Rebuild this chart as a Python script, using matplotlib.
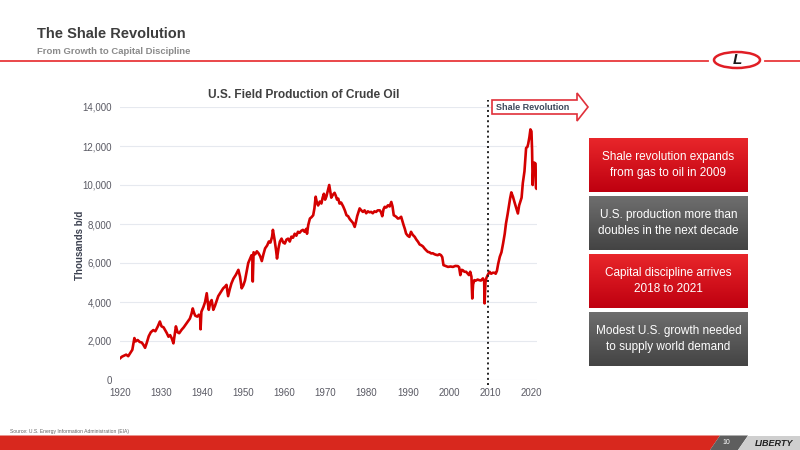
import numpy as np
import matplotlib
matplotlib.use('Agg')
import matplotlib.pyplot as plt
from matplotlib.patches import Polygon, Ellipse

plt.rcParams['font.family'] = ['Liberation Sans', 'DejaVu Sans']

# ---------- 数据 (读图估计, 千桶/日) ----------
years = [
    1920.0, 1920.5, 1921.0, 1921.5, 1922.0, 1922.5, 1923.0, 1923.5, 1923.8, 1924.3,
    1924.8, 1925.3, 1925.7, 1926.1, 1926.5, 1927.0, 1927.5, 1928.1, 1928.6, 1929.2,
    1929.7, 1930.1, 1930.6, 1931.0, 1931.4, 1931.8, 1932.2, 1932.6, 1933.0, 1933.3,
    1933.6, 1934.0, 1934.4, 1935.0, 1935.5, 1936.0, 1936.5, 1937.0, 1937.4, 1937.7,
    1938.0, 1938.3, 1938.8, 1939.2, 1939.5, 1939.6, 1939.8, 1940.3, 1940.7, 1941.1,
    1941.4, 1941.6, 1942.0, 1942.3, 1942.7, 1943.1, 1943.5, 1943.9, 1944.5, 1945.1,
    1945.6, 1945.9, 1946.3, 1946.7, 1947.1, 1947.6, 1948.2, 1948.8, 1949.2, 1949.6,
    1950.0, 1950.4, 1950.8, 1951.2, 1951.6, 1952.0, 1952.2, 1952.3, 1952.5, 1952.9,
    1953.3, 1953.7, 1954.1, 1954.5, 1954.9, 1955.3, 1955.8, 1956.2, 1956.6, 1957.0,
    1957.2, 1957.6, 1958.0, 1958.2, 1958.6, 1958.9, 1959.3, 1959.7, 1960.1, 1960.5,
    1960.9, 1961.3, 1961.7, 1962.1, 1962.5, 1962.9, 1963.3, 1963.7, 1964.1, 1964.5,
    1964.9, 1965.3, 1965.5, 1965.8, 1966.2, 1966.6, 1967.0, 1967.3, 1967.6, 1967.9,
    1968.2, 1968.6, 1969.0, 1969.3, 1969.6, 1969.9, 1970.2, 1970.5, 1970.9, 1971.2,
    1971.4, 1971.8, 1972.2, 1972.5, 1972.8, 1973.1, 1973.4, 1973.8, 1974.3, 1974.7,
    1975.1, 1975.5, 1975.9, 1976.3, 1976.7, 1977.1, 1977.4, 1977.7, 1978.0, 1978.3,
    1978.7, 1979.1, 1979.5, 1979.9, 1980.3, 1980.7, 1981.1, 1981.5, 1981.9, 1982.3,
    1982.7, 1983.2, 1983.5, 1983.8, 1984.1, 1984.4, 1984.8, 1985.2, 1985.6, 1986.0,
    1986.3, 1986.6, 1987.0, 1987.3, 1987.6, 1988.0, 1988.4, 1988.7, 1989.0, 1989.3,
    1989.6, 1990.0, 1990.4, 1990.8, 1991.2, 1991.7, 1992.1, 1992.5, 1992.9, 1993.3,
    1993.7, 1994.1, 1994.5, 1994.9, 1995.3, 1995.7, 1996.1, 1996.5, 1996.9, 1997.3,
    1997.7, 1998.1, 1998.4, 1998.7, 1999.2, 1999.8, 2000.4, 2001.0, 2001.6, 2002.2,
    2002.5, 2002.8, 2003.1, 2003.4, 2003.8, 2004.2, 2004.6, 2004.9, 2005.2, 2005.5,
    2005.7, 2005.9, 2006.2, 2006.6, 2007.0, 2007.4, 2007.8, 2008.3, 2008.6, 2008.7,
    2008.9, 2009.1, 2009.5, 2009.9, 2010.3, 2010.7, 2011.1, 2011.4, 2011.7, 2012.0,
    2012.4, 2012.8, 2013.2, 2013.6, 2013.9, 2014.3, 2014.6, 2014.9, 2015.2, 2015.6,
    2016.0, 2016.5, 2016.8, 2017.1, 2017.4, 2017.7, 2018.0, 2018.4, 2018.8, 2019.1,
    2019.3, 2019.6, 2019.85, 2020.1, 2020.25, 2020.4, 2020.6, 2020.8, 2020.95, 2021.1,
    2021.2, 2021.3,
]
production = [
    1110, 1200, 1250, 1300, 1220, 1380, 1550, 2150, 1980, 2050,
    1950, 1920, 1800, 1650, 1900, 2250, 2450, 2560, 2500, 2750,
    3000, 2750, 2700, 2550, 2400, 2220, 2300, 2130, 1880, 2300,
    2750, 2450, 2400, 2580, 2700, 2850, 3000, 3150, 3400, 3670,
    3450, 3300, 3250, 3350, 3200, 2600, 3500, 3750, 4000, 4450,
    3900, 3600, 4000, 4100, 3600, 3800, 4050, 4300, 4500, 4700,
    4800, 4880, 4300, 4650, 4950, 5200, 5400, 5650, 5300, 4700,
    4850, 5100, 5550, 6000, 6200, 6400, 6250, 5050, 6550, 6450,
    6600, 6500, 6350, 6100, 6450, 6750, 6900, 7100, 7050, 7350,
    7700, 7200, 6600, 6230, 6800, 7100, 7250, 7050, 7000, 7200,
    7250, 7100, 7350, 7300, 7500, 7400, 7600, 7550, 7650, 7700,
    7600, 7750, 7500, 7950, 8280, 8350, 8450, 8800, 9400, 9100,
    8950, 9150, 9050, 9350, 9550, 9250, 9400, 9650, 10000, 9600,
    9350, 9500, 9600, 9450, 9250, 9300, 9050, 9100, 8900, 8700,
    8450, 8400, 8250, 8150, 8050, 7850, 8100, 8400, 8600, 8800,
    8700, 8620, 8700, 8550, 8650, 8600, 8620, 8550, 8650, 8620,
    8700, 8700, 8600, 8400, 8750, 8880, 8850, 8960, 8900, 9130,
    8900, 8450, 8400, 8350, 8280, 8300, 8370, 8150, 7940, 7750,
    7510, 7400, 7340, 7600, 7450, 7340, 7200, 7090, 6950, 6910,
    6850, 6740, 6650, 6570, 6550, 6490, 6500, 6450, 6420, 6400,
    6450, 6400, 6300, 5890, 5850, 5800, 5820, 5800, 5850, 5840,
    5780, 5380, 5650, 5630, 5550, 5550, 5450, 5380, 5550, 5300,
    4180, 4900, 5120, 5100, 5150, 5120, 5100, 5210, 5050, 3930,
    5000, 5210, 5400, 5550, 5450, 5500, 5500, 5450, 5600, 5950,
    6320, 6550, 7000, 7500, 8020, 8500, 8900, 9300, 9620, 9400,
    9100, 8750, 8540, 8950, 9150, 9350, 10100, 10700, 11900, 11950,
    12100, 12450, 12850, 12750, 11800, 10000, 10900, 11150, 11100, 11100,
    9850, 9820,
]
shale_start = 2009.55

y_ticks = list(range(0, 14001, 2000))
x_ticks = list(range(1920, 2021, 10))

box_texts = [
    'Shale revolution expands\nfrom gas to oil in 2009',
    'U.S. production more than\ndoubles in the next decade',
    'Capital discipline arrives\n2018 to 2021',
    'Modest U.S. growth needed\nto supply world demand',
]
box_colors = [('#e8262a', '#bf0010'), ('#6e6e6e', '#444444'),
              ('#e8262a', '#bf0010'), ('#6e6e6e', '#444444')]
box_tops = [138, 196, 254, 312]


def px(x, y):
    # 像素坐标 -> figure 坐标
    return (x / 800, 1 - y / 450)


fig = plt.figure(figsize=(8, 4.5), dpi=100)

# ---------- 页眉 ----------
fig.text(*px(37, 34), 'The Shale Revolution', fontsize=10.5, fontweight='bold',
         color='#3d3d3d', va='center', ha='left')
fig.text(*px(37, 51), 'From Growth to Capital Discipline', fontsize=6.8, fontweight='bold',
         color='#8a8a8a', va='center', ha='left')
fig.add_artist(plt.Line2D([0, 708 / 800], [1 - 60.7 / 450] * 2, color='#e8383a', lw=1.3,
                          transform=fig.transFigure))
fig.add_artist(plt.Line2D([765 / 800, 1], [1 - 60.7 / 450] * 2, color='#e8383a', lw=1.3,
                          transform=fig.transFigure))
fig.add_artist(Ellipse(px(737, 60), 46 / 800, 16 / 450, transform=fig.transFigure,
                       facecolor='white', edgecolor='#e01e25', lw=1.8))
fig.text(*px(737, 60), 'L', fontsize=11, fontweight='bold', style='italic',
         color='#1a1a1a', ha='center', va='center')

# ---------- 主图 ----------
ax = fig.add_axes([120 / 800, 1 - 380 / 450, 417 / 800, 273 / 450])
ax.plot(years, production, color='#d40000', lw=1.9, solid_joinstyle='round')
ax.set_xlim(1920, 2021.45)
ax.set_ylim(0, 14000)
ax.set_xticks(x_ticks)
ax.set_yticks(y_ticks)
ax.set_yticklabels([f'{v:,}' for v in y_ticks])
ax.tick_params(length=0, labelsize=7, colors='#5a5a64', pad=6)
for s in ax.spines.values():
    s.set_visible(False)
ax.yaxis.grid(True, color='#e6e9ef', lw=0.8)
ax.set_axisbelow(True)
ax.plot([shale_start, shale_start], [-260, 14350], color='#222222', ls=':', lw=1.4,
        clip_on=False)

fig.text(*px(304, 95), 'U.S. Field Production of Crude Oil', fontsize=8.6,
         fontweight='bold', color='#404040', ha='center', va='center')
fig.text(*px(80, 245), 'Thousands b/d', fontsize=7, fontweight='bold', color='#3c4150',
         rotation=90, ha='center', va='center')

# Shale Revolution 箭头
arrow = [(492, 100), (577, 100), (577, 93), (588, 107), (577, 121), (577, 114), (492, 114)]
fig.add_artist(Polygon([px(x, y) for x, y in arrow], closed=True, transform=fig.transFigure,
                       facecolor='white', edgecolor='#e0303a', lw=1.2))
fig.text(*px(533, 107.5), 'Shale Revolution', fontsize=6.5, fontweight='bold',
         color='#3e4a5c', ha='center', va='center')

# ---------- 右侧文字框 ----------
for txt, (c1, c2), top in zip(box_texts, box_colors, box_tops):
    bax = fig.add_axes([589 / 800, 1 - (top + 54) / 450, 159 / 800, 54 / 450])
    grad = np.linspace(0, 1, 50).reshape(-1, 1)
    cmap = matplotlib.colors.LinearSegmentedColormap.from_list('g', [c1, c2])
    bax.imshow(grad, aspect='auto', cmap=cmap, extent=[0, 1, 0, 1])
    bax.set_axis_off()
    bax.text(0.5, 0.5, txt, color='white', fontsize=8.5, ha='center', va='center',
             linespacing=1.45, transform=bax.transAxes)

# ---------- 页脚 ----------
fig.text(*px(10, 431), 'Source: U.S. Energy Information Administration (EIA)', fontsize=3.6,
         color='#666666', ha='left', va='center')
fig.add_artist(Polygon([px(0, 435.5), px(720, 435.5), px(710, 450), px(0, 450)],
                       closed=True, transform=fig.transFigure, facecolor='#d8281e', lw=0))
fig.add_artist(Polygon([px(720, 435.5), px(748, 435.5), px(738, 450), px(710, 450)],
                       closed=True, transform=fig.transFigure, facecolor='#5e5e5e', lw=0))
fig.add_artist(Polygon([px(748, 435.5), px(800, 435.5), px(800, 450), px(738, 450)],
                       closed=True, transform=fig.transFigure, facecolor='#cfcfcf', lw=0))
fig.text(*px(726, 443), '10', fontsize=5, color='white', ha='center', va='center')
fig.text(*px(774, 443), 'LIBERTY', fontsize=6.5, fontweight='bold', style='italic',
         color='#1e1e1e', ha='center', va='center')

plt.savefig('out.png', dpi=100)
plt.close()
